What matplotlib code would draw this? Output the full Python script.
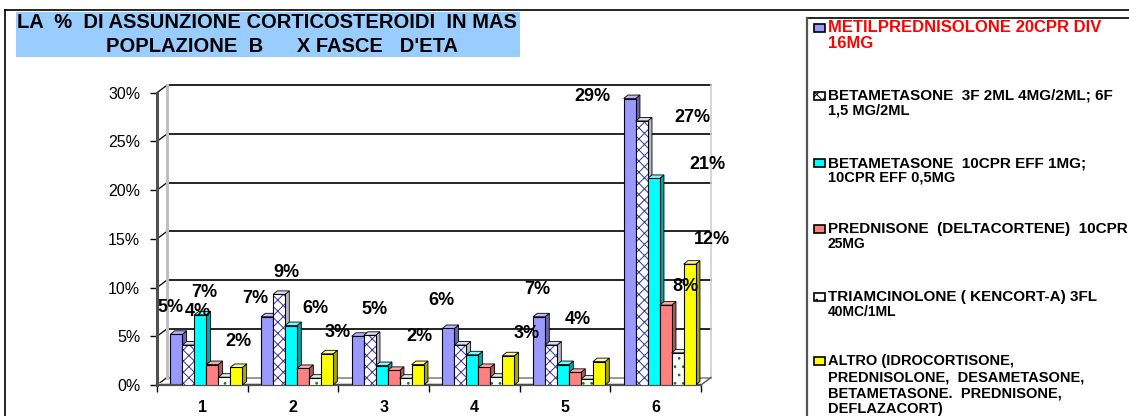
import matplotlib.pyplot as plt
from matplotlib.patches import Rectangle, Polygon
from matplotlib.lines import Line2D
import numpy as np

plt.rcParams['font.family'] = ['Liberation Sans', 'DejaVu Sans']
plt.rcParams['hatch.linewidth'] = 0.7

W, H = 1129, 416

groups = ["1", "2", "3", "4", "5", "6"]
series = [
    "METILPREDNISOLONE 20CPR DIV\n16MG",
    "BETAMETASONE  3F 2ML 4MG/2ML; 6F\n1,5 MG/2ML",
    "BETAMETASONE  10CPR EFF 1MG;\n10CPR EFF 0,5MG",
    "PREDNISONE  (DELTACORTENE)  10CPR\n25MG",
    "TRIAMCINOLONE ( KENCORT-A) 3FL\n40MC/1ML",
    "ALTRO (IDROCORTISONE,\nPREDNISOLONE,  DESAMETASONE,\nBETAMETASONE.  PREDNISONE,\nDEFLAZACORT)",
]
metil = [5.2, 7.0, 5.0, 5.8, 7.0, 29.4]
beta_inj = [4.1, 9.3, 5.1, 4.1, 4.1, 27.1]
beta_cpr = [7.2, 6.1, 2.0, 3.1, 2.1, 21.2]
prednisone = [2.1, 1.7, 1.5, 1.8, 1.3, 8.2]
triamcinolone = [0.8, 0.7, 0.7, 0.8, 0.6, 3.3]
altro = [1.8, 3.2, 2.1, 3.0, 2.4, 12.4]
values = [metil, beta_inj, beta_cpr, prednisone, triamcinolone, altro]

# which value labels are shown: (group index, series index)
shown_labels = [(0, 0), (0, 1), (0, 2), (0, 5), (1, 0), (1, 1), (1, 2), (1, 5),
                (2, 0), (2, 5), (3, 0), (3, 5), (4, 0), (4, 1),
                (5, 0), (5, 1), (5, 2), (5, 5), (5, 3)]
label_pos = [(0.65, 8.0), (0.95, 7.5), (1.02, 9.5), (1.40, 4.5), (1.58, 8.9),
             (1.93, 11.5), (2.25, 7.9), (2.49, 5.4), (2.90, 7.7), (3.40, 5.0),
             (3.64, 8.7), (4.58, 5.3), (4.69, 9.8), (5.14, 6.7),
             (5.30, 29.6), (6.41, 27.5), (6.57, 22.6), (6.62, 14.9), (6.33, 10.1)]

face = ["#9999FF", "white", "#00FFFF", "#FF8080", "white", "#FFFF00"]
side = ["#6666B0", "#B8B8C8", "#00A8A8", "#B05858", "#C8C8C8", "#A8A800"]
top = ["#B8B8FF", "#DADAF0", "#70FFFF", "#FFA8A8", "#E0F0E0", "#FFFF90"]
hatch = [None, "xxx", None, None, "..", None]
hatch_col = [None, "#3333AA", None, None, "#008000", None]

fig = plt.figure(figsize=(W / 100, H / 100), dpi=100)


def fx(x):
    return x / W


def fy(y):
    return 1 - y / H


ax = fig.add_axes([fx(157), fy(385), fx(701) - fx(157), fy(92.7) - fy(385)])
ax.set_xlim(0.5, 6.5)
ax.set_ylim(0, 30)

px_x = (701 - 157) / 6.0
px_y = (385 - 92.7) / 30.0
wall_dx = 10 / px_x
wall_dy = 7.5 / px_y
dx = 4.3 / px_x
dy = 3.5 / px_y
bw = 12 / px_x

# back wall + grid
yt = np.arange(0, 31, 5)
for v in yt:
    ax.plot([0.5 + wall_dx, 6.5 + wall_dx], [v + wall_dy, v + wall_dy],
            color="#888888" if v == 0 else "black", lw=1.2, zorder=1, clip_on=False)
    ax.plot([0.5, 0.5 + wall_dx], [v, v + wall_dy], color="black", lw=0.9,
            zorder=1, clip_on=False)
ax.plot([0.5 + wall_dx] * 2, [wall_dy, 30 + wall_dy], color="#C0C0C0", lw=2.2,
        zorder=1, clip_on=False)
ax.plot([6.5 + wall_dx] * 2, [wall_dy, 30 + wall_dy], color="#D0D0D0", lw=1.2,
        zorder=1, clip_on=False)
ax.plot([6.5, 6.5 + wall_dx], [0, wall_dy], color="#555555", lw=1.0,
        zorder=1, clip_on=False)
ax.fill_between([0.5, 6.5], [0, 0], [0.25, 0.25], color="#DDDDDD", zorder=1)

# 3D bars
z = 2
x0 = np.arange(1, 7)
for g in range(6):
    for i in range(6):
        v = values[i][g]
        xl = x0[g] + (-26 + 12 * i) / px_x - bw / 2
        xr = xl + bw
        ax.add_patch(Polygon([(xr, 0), (xr + dx, dy), (xr + dx, v + dy), (xr, v)],
                             closed=True, fc=side[i], ec="black", lw=0.6, zorder=z))
        ax.add_patch(Polygon([(xl, v), (xl + dx, v + dy), (xr + dx, v + dy), (xr, v)],
                             closed=True, fc=top[i], ec="black", lw=0.6, zorder=z))
        if hatch[i]:
            ax.add_patch(Rectangle((xl, 0), bw, v, fc=face[i], ec=hatch_col[i],
                                   hatch=hatch[i], lw=0, zorder=z))
            ax.add_patch(Rectangle((xl, 0), bw, v, fill=False, ec="black",
                                   lw=0.8, zorder=z))
        else:
            ax.add_patch(Rectangle((xl, 0), bw, v, fc=face[i], ec="black",
                                   lw=0.8, zorder=z))
        z += 1

for (g, i), (lx, ly) in zip(shown_labels, label_pos):
    ax.text(lx, ly, f"{values[i][g]:.0f}%", ha="center", va="center",
            fontsize=13, fontweight="bold", zorder=100, clip_on=False)

for s in ["top", "right"]:
    ax.spines[s].set_visible(False)
ax.spines["left"].set_color("#505050")
ax.spines["left"].set_linewidth(2.2)
ax.spines["bottom"].set_color("#505050")
ax.spines["bottom"].set_linewidth(1.6)
ax.patch.set_visible(False)

ax.set_yticks(yt)
ax.set_yticklabels([f"{v}%" for v in yt], fontsize=11.5)
ax.tick_params(axis="y", length=5, width=1, pad=7)
ax.set_xticks(x0)
ax.set_xticklabels(groups, fontsize=11.5, fontweight="bold")
ax.set_xticks(np.arange(0.5, 7, 1), minor=True)
ax.tick_params(axis="x", which="major", length=0, pad=11)
ax.tick_params(axis="x", which="minor", length=5, width=1, direction="out")

# frame
fig.add_artist(Line2D([fx(5), 1], [fy(10), fy(10)], color="black", lw=1.2))
fig.add_artist(Line2D([fx(5), fx(5)], [fy(10), 0], color="black", lw=1.2))
fig.add_artist(Line2D([fx(807), 1], [fy(18), fy(18)], color="black", lw=1.2))
fig.add_artist(Line2D([fx(807), fx(807)], [fy(18), 0], color="#555555", lw=1.6))

# title box
fig.add_artist(Rectangle((fx(16), fy(57)), fx(520) - fx(16), fy(12) - fy(57),
                         fc="#99CCFF", ec="none"))
fig.text(fx(267), fy(22), "LA  %  DI ASSUNZIONE CORTICOSTEROIDI  IN MAS",
         ha="center", va="center", fontsize=14.5, fontweight="bold")
fig.text(fx(282), fy(46), "POPLAZIONE  B      X FASCE   D'ETA",
         ha="center", va="center", fontsize=14.5, fontweight="bold")

# legend
leg_y = [28, 96, 163, 229, 297, 361]
first_size = [12, 11, 11, 11, 11, 10.5]
sub_size = [12, 10.5, 10.5, 10, 10, 10.5]
line_gap = [15, 14.5, 14.5, 14.5, 14.5, 16]
for i, name in enumerate(series):
    yy = leg_y[i]
    fig.add_artist(Rectangle((fx(814), fy(yy + 4)), fx(825) - fx(814), fy(yy - 4) - fy(yy + 4),
                             fc=face[i], ec="black", lw=1.2,
                             hatch=hatch[i]))
    lines = name.split("\n")
    col = "red" if i == 0 else "black"
    fig.text(fx(828), fy(yy), lines[0], ha="left", va="center",
             fontsize=first_size[i], fontweight="bold", color=col)
    for k, ln in enumerate(lines[1:], start=1):
        fig.text(fx(828), fy(yy + line_gap[i] * k), ln, ha="left",
                 va="center", fontsize=sub_size[i], fontweight="bold", color=col)

fig.savefig("out.png", dpi=100)
